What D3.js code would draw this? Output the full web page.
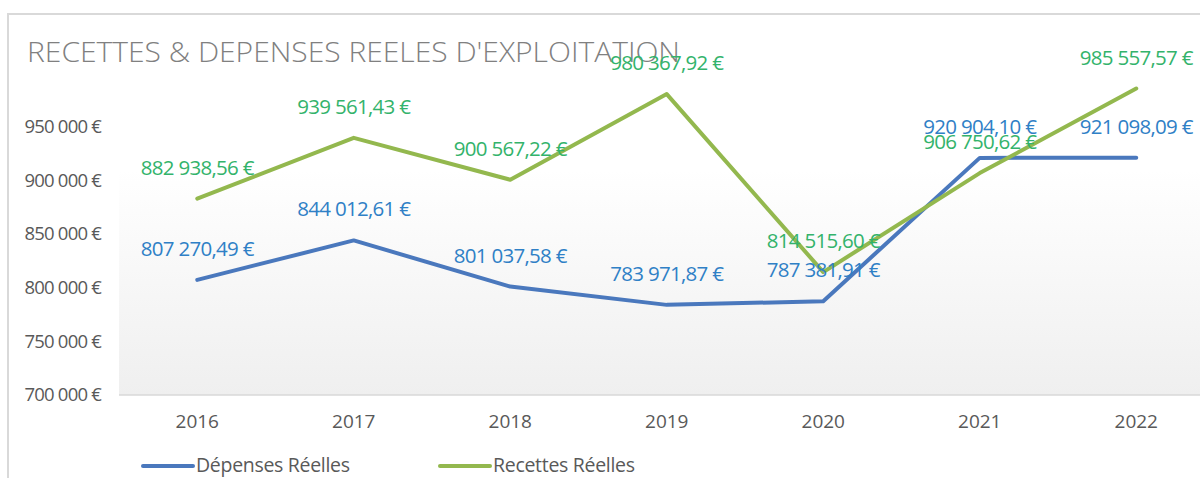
<!DOCTYPE html>
<html>
<head>
<meta charset="utf-8">
<script src="https://cdn.jsdelivr.net/npm/d3@7"></script>
<style>
  body { margin: 0; background: #fff; }
  svg { display: block; font-family: "Open Sans", sans-serif; }
</style>
</head>
<body>
<svg id="chart" width="1200" height="478"></svg>
<script>
// Recettes & dépenses réelles d'exploitation

const years = ["2016", "2017", "2018", "2019", "2020", "2021", "2022"];
const depenses = [807270.49, 844012.61, 801037.58, 783971.87, 787381.91, 920904.10, 921098.09];
const recettes = [882938.56, 939561.43, 900567.22, 980367.92, 814515.60, 906750.62, 985557.57];
const yTicks = [700000, 750000, 800000, 850000, 900000, 950000];
const seriesNames = ["Dépenses Réelles", "Recettes Réelles"];

const lineColors = ["#4a78bd", "#93b84e"];
const labelColors = ["#2f80c6", "#33b36b"];

const fr = d3.formatLocale({decimal: ",", thousands: "\u00a0", grouping: [3], currency: ["", "\u00a0€"]});
const fmtVal = fr.format(",.2f");
const fmtTick = fr.format(",.0f");

const svg = d3.select("#chart");
const width = 1200, height = 478;

const margin = {top: 73, left: 119, bottom: 395};

let xScale = d3.scaleBand()
    .domain(years)
    .range([margin.left, margin.left + 156.5 * years.length]);

let yScale = d3.scaleLinear()
    .domain([700000, 1000000])
    .range([margin.bottom, margin.top]);

// background gradient of plot area
const defs = svg.append("defs");
const grad = defs.append("linearGradient")
    .attr("id", "bg").attr("x1", 0).attr("y1", 0).attr("x2", 0).attr("y2", 1);
grad.append("stop").attr("offset", "0%").attr("stop-color", "#ffffff");
grad.append("stop").attr("offset", "30%").attr("stop-color", "#ffffff");
grad.append("stop").attr("offset", "100%").attr("stop-color", "#efefef");

svg.append("rect")
    .attr("x", margin.left)
    .attr("y", margin.top)
    .attr("width", width - margin.left)
    .attr("height", margin.bottom - margin.top)
    .attr("fill", "url(#bg)");

// chart frame (top + left only visible)
svg.append("path")
    .attr("d", "M8,478 L8,14 L1200,14")
    .attr("fill", "none")
    .attr("stroke", "#d9d9d9")
    .attr("stroke-width", 2);

// title
svg.append("text")
    .attr("x", 27)
    .attr("y", 62)
    .attr("fill", "#808080")
    .attr("font-size", 28)
    .attr("font-weight", 300)
    .attr("textLength", 653)
    .attr("lengthAdjust", "spacingAndGlyphs")
    .text("RECETTES & DEPENSES REELES D'EXPLOITATION");

// x axis
let xAxis = svg.append("g")
    .attr("id", "x-axis")
    .attr("transform", "translate(0," + margin.bottom + ")")
    .call(d3.axisBottom(xScale).tickSize(0).tickPadding(20));
xAxis.select(".domain").attr("stroke", "#d9d9d9").attr("stroke-width", 1.5)
    .attr("d", "M" + margin.left + ",0H" + width);
xAxis.selectAll("text").attr("fill", "#595959").attr("font-size", 19)
    .attr("font-family", "Open Sans");

// y axis (labels only)
let yAxis = svg.append("g")
    .attr("id", "y-axis")
    .attr("transform", "translate(101,0)")
    .call(d3.axisLeft(yScale).tickValues(yTicks).tickSize(0).tickPadding(0)
        .tickFormat(d => fmtTick(d) + "\u00a0€"));
yAxis.select(".domain").remove();
yAxis.selectAll("text").attr("fill", "#595959").attr("font-size", 18.5)
    .attr("font-family", "Open Sans").attr("letter-spacing", "-0.8");

// lines + labels
const series = [depenses, recettes];
const line = d3.line()
    .x((d, i) => xScale(years[i]) + xScale.bandwidth() / 2)
    .y(d => yScale(d));

series.forEach((vals, s) => {
    svg.append("path")
        .datum(vals)
        .attr("d", line)
        .attr("fill", "none")
        .attr("stroke", lineColors[s])
        .attr("stroke-width", 4)
        .attr("stroke-linejoin", "round")
        .attr("stroke-linecap", "round");
});

series.forEach((vals, s) => {
    svg.append("g").selectAll("text")
        .data(vals)
        .join("text")
        .attr("x", (d, i) => xScale(years[i]) + xScale.bandwidth() / 2)
        .attr("y", d => yScale(d) - 24)
        .attr("text-anchor", "middle")
        .attr("fill", labelColors[s])
        .attr("font-size", 20.5)
        .attr("letter-spacing", "-0.7")
        .text(d => fmtVal(d) + "\u00a0€");
});

// legend
const legendX = [143, 440];
seriesNames.forEach((name, s) => {
    let g = svg.append("g").attr("transform", "translate(" + legendX[s] + ",466)");
    g.append("line")
        .attr("x1", 0).attr("x2", 50)
        .attr("stroke", lineColors[s])
        .attr("stroke-width", 4)
        .attr("stroke-linecap", "round");
    g.append("text")
        .attr("x", 53)
        .attr("y", 6)
        .attr("fill", "#595959")
        .attr("font-size", 19.5)
        .attr("letter-spacing", "-0.3")
        .text(name);
});
</script>
</body>
</html>
